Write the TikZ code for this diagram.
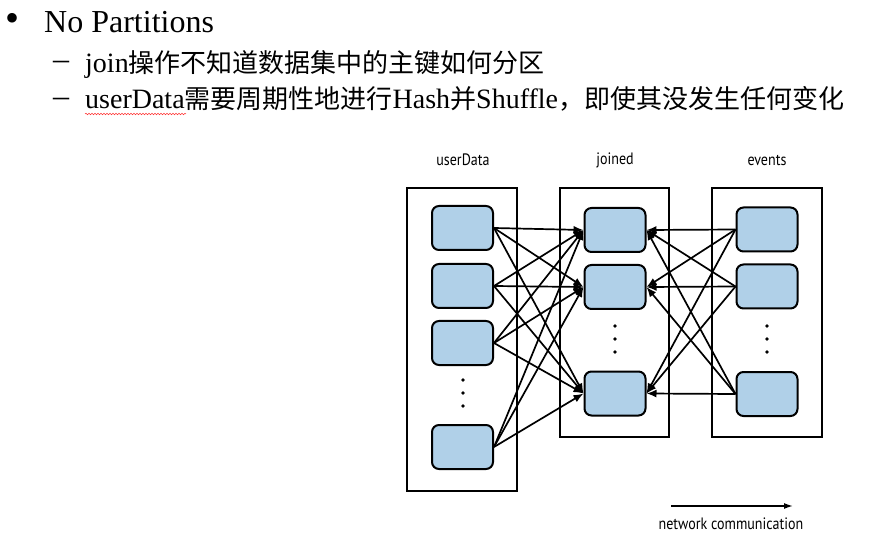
\documentclass[tikz,border=0pt]{standalone}
\usepackage{fontspec}
\setmainfont{Liberation Serif}
\newfontfamily\cjk{Noto Sans CJK SC}
\newfontfamily\diagfont[FakeStretch=0.85]{PT Sans}
\newcommand{\zh}[1]{{\cjk\fontsize{26}{26}\selectfont #1}}
\usetikzlibrary{positioning,arrows.meta,decorations.pathmorphing}
\definecolor{partblue}{RGB}{176,208,232}
\begin{document}
\begin{tikzpicture}[
        x=1pt, y=-1pt, % координаты как в пикселях
        cell/.style={draw, line width=2pt, rounded corners=7pt, fill=partblue,
            minimum width=61pt, minimum height=44pt, inner sep=0pt}, % раздел
        frame/.style={draw, line width=1.8pt, inner sep=0pt}, % набор данных
        title/.style={font=\diagfont\fontsize{16.5}{16.5}\selectfont},
        flow/.style={line width=1.7pt, -{Latex[length=10pt,width=8pt]}},
        item/.style={anchor=base west, inner sep=0pt},
    ]

    \useasboundingbox (0,0) rectangle (887,540);

    % текст слайда
    \node[font=\fontsize{40}{40}\selectfont, inner sep=0pt] (bul) at (13,22) {•};
    \node[item, font=\fontsize{32}{32}\selectfont] (head) at (44,33) {No Partitions};
    \node[font=\fontsize{32}{32}\selectfont, inner sep=0pt] (dash1) at (61,65) {–};
    \node[font=\fontsize{32}{32}\selectfont, inner sep=0pt] (dash2) at (61,102) {–};
    \node[item, font=\fontsize{28}{28}\selectfont] (line1) at (85,73)
        {join\zh{操作不知道数据集中的主键如何分区}};
    \node[item, font=\fontsize{28}{28}\selectfont] (line2) at (85,109)
        {userData\zh{需要周期性地进行}Hash\zh{并}Shuffle\zh{，即使其没发生任何变化}};
    \draw[red!80, line width=0.5pt, decorate,
        decoration={snake, amplitude=0.8pt, segment length=3pt}] (85,114) -- (186,114);

    % наборы данных
    \node[title] (tu) at (463,160) {userData};
    \node[title] (tj) at (615,160) {joined};
    \node[title] (te) at (767,160) {events};

    \node[frame, minimum width=110pt, minimum height=303pt] (fu) at (462,339.5) {};
    \node[frame, minimum width=109pt, minimum height=249pt] (fj) at (614.5,312.5) {};
    \node[frame, minimum width=110pt, minimum height=249pt] (fe) at (767,312.5) {};

    % разделы
    \node[cell] (u1) at (462.5,228) {};
    \node[cell, below=12pt of u1] (u2) {};
    \node[cell, below=11pt of u2] (u3) {};
    \node[cell] (u4) at (462.5,447) {};

    \node[cell] (j1) at (615,230) {};
    \node[cell, below=11pt of j1] (j2) {};
    \node[cell] (j3) at (615,393.5) {};

    \node[cell] (e1) at (767,229.5) {};
    \node[cell, below=11pt of e1] (e2) {};
    \node[cell] (e3) at (767,394) {};

    \foreach \y in {380,393,406} \fill (463,\y) circle (1.8pt);
    \foreach \y in {326,339,352} {
        \fill (615,\y) circle (1.8pt);
        \fill (767,\y) circle (1.8pt);
    }

    % перемешивание
    \foreach \s in {u1,u2,u3,u4}
        \foreach \t in {j1,j2,j3}
            \draw[flow] (\s.east) -- (\t.west);
    \foreach \s in {e1,e2,e3}
        \foreach \t in {j1,j2,j3}
            \draw[flow] (\s.west) -- (\t.east);

    % легенда
    \coordinate (na) at (671,506);
    \coordinate (nb) at (793,506);
    \draw[line width=1.5pt, -{Latex[length=9pt,width=6pt]}] (na) -- (nb);
    \node[title] (nc) at (731,524) {network communication};
\end{tikzpicture}
\end{document}
